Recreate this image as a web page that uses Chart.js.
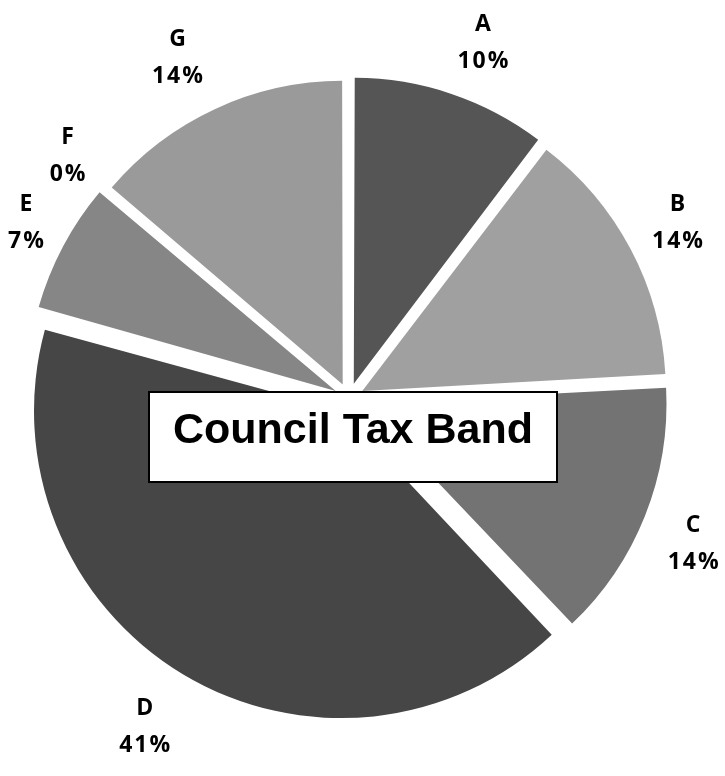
<!DOCTYPE html>
<html>
<head>
<meta charset="utf-8">
<script src="https://cdn.jsdelivr.net/npm/chart.js@4.4.1/dist/chart.umd.min.js"></script>
<style>
    body { margin: 0; background: #fff; }
    #caja { width: 725px; height: 776px; }
</style>
</head>
<body>
<div id="caja"><canvas id="graficabandas" width="725" height="776"></canvas></div>
<script>
var bandas = ['A', 'B', 'C', 'D', 'E', 'F', 'G'];
var viviendas = [3, 4, 4, 12, 2, 0, 4];
var colores = ['#555555', '#a0a0a0', '#737373', '#464646', '#868686', '#8c8c8c', '#9a9a9a'];
var titulo = 'Council Tax Band';

var total = viviendas.reduce(function(a, b){ return a + b; }, 0);
var porcentajes = viviendas.map(function(v){ return Math.round(v / total * 100) + '%'; });

// etiquetas fuera de cada porcion (como Excel: la esquina de la caja toca el radio) + caja del titulo
var etiquetas = {
    id: 'etiquetas',
    afterDatasetsDraw: function(chart){
        var ctx = chart.ctx;
        var arcos = chart.getDatasetMeta(0).data;
        ctx.save();
        ctx.fillStyle = '#000';
        ctx.font = 'bold 23px "Open Sans"';
        ctx.letterSpacing = '2px';
        ctx.textAlign = 'center';
        ctx.textBaseline = 'middle';
        arcos.forEach(function(arco, i){
            var p = arco.getProps(['x', 'y', 'startAngle', 'endAngle', 'outerRadius'], true);
            var mid = (p.startAngle + p.endAngle) / 2;
            var r0 = p.outerRadius + 43;
            var w = Math.max(ctx.measureText(bandas[i]).width, ctx.measureText(porcentajes[i]).width);
            var sx = Math.cos(mid), sy = Math.sin(mid);
            var kx = Math.max(-1, Math.min(1, sx * 3));
            var cx = p.x + sx * r0 + kx * w / 2;
            var cy = p.y + sy * r0 + sy * 32 + (sy > 0 ? 7 : 0);
            ctx.fillText(bandas[i], cx, cy - 18);
            ctx.fillText(porcentajes[i], cx, cy + 19);
        });
        ctx.restore();

        var a0 = arcos[0];
        var x = a0.x, y = a0.y;
        ctx.save();
        ctx.fillStyle = '#fff';
        ctx.fillRect(x - 200, y - 6, 408, 90);
        ctx.lineWidth = 2;
        ctx.strokeStyle = '#000';
        ctx.strokeRect(x - 200, y - 6, 408, 90);
        ctx.fillStyle = '#000';
        ctx.font = 'bold 43px "Liberation Sans"';
        ctx.textAlign = 'center';
        ctx.textBaseline = 'alphabetic';
        ctx.fillText(titulo, x + 4, y + 45);
        ctx.restore();
    }
};

var ctx1 = document.getElementById('graficabandas').getContext('2d');
var chart = new Chart(ctx1, {
    type: 'pie',
    data: {
        labels: bandas,
        datasets: [{
            data: viviendas,
            backgroundColor: colores,
            borderWidth: 0,
            offset: 60,
            radius: 300
        }]
    },
    options: {
        responsive: false,
        animation: false,
        events: [],
        layout: { padding: { left: 0, right: 27, top: 20, bottom: 0 } },
        plugins: {
            legend: { display: false },
            tooltip: { enabled: false }
        }
    },
    plugins: [etiquetas]
});
</script>
</body>
</html>
